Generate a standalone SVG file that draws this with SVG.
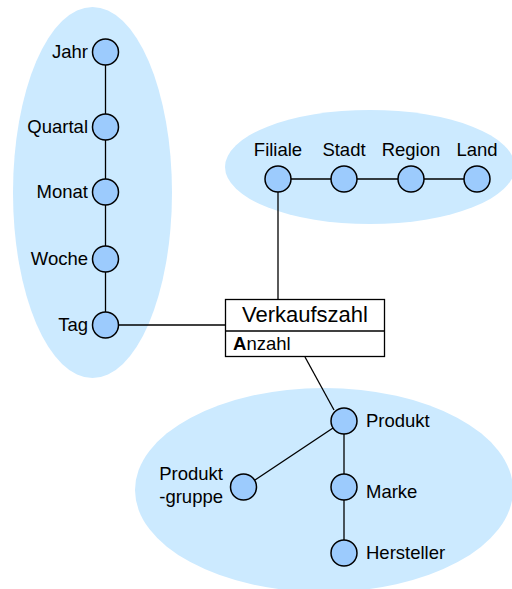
<svg xmlns="http://www.w3.org/2000/svg" width="512" height="589" viewBox="0 0 512 589">
  <style>
    .dim { fill: #cceaff; stroke: none; }
    .lvl { fill: #9ccbfd; stroke: #000; stroke-width: 1.5; }
    .edge { stroke: #000; stroke-width: 1.3; fill: none; }
    text { font-family: "Liberation Sans", Arial, sans-serif; font-size: 18.5px; fill: #000; }
    .end { text-anchor: end; }
    .mid { text-anchor: middle; }
  </style>

  <!-- dimension regions -->
  <g id="zeit-bereich"><ellipse class="dim" cx="92.5" cy="192.5" rx="79.5" ry="185.5"/></g>
  <g id="ort-bereich"><ellipse class="dim" cx="370" cy="167" rx="145" ry="57"/></g>
  <g id="produkt-bereich"><ellipse class="dim" cx="324" cy="490" rx="189" ry="102"/></g>

  <!-- connectors -->
  <g id="connectors">
    <line class="edge" x1="105.5" y1="65" x2="105.5" y2="312"/>
    <line class="edge" x1="118.5" y1="325" x2="225.5" y2="325"/>
    <line class="edge" x1="278" y1="179" x2="477" y2="179"/>
    <line class="edge" x1="278" y1="192" x2="278" y2="299"/>
    <line class="edge" x1="305" y1="357" x2="334" y2="410"/>
    <line class="edge" x1="344" y1="421" x2="344" y2="553"/>
    <line class="edge" x1="333" y1="428" x2="255" y2="480"/>
  </g>

  <!-- time hierarchy -->
  <g id="jahr"><circle class="lvl" cx="105.5" cy="52" r="13"/><text class="end" x="88" y="58">Jahr</text></g>
  <g id="quartal"><circle class="lvl" cx="105.5" cy="127" r="13"/><text class="end" x="88" y="133">Quartal</text></g>
  <g id="monat"><circle class="lvl" cx="105.5" cy="192" r="13"/><text class="end" x="88" y="198">Monat</text></g>
  <g id="woche"><circle class="lvl" cx="105.5" cy="259" r="13"/><text class="end" x="88" y="265">Woche</text></g>
  <g id="tag"><circle class="lvl" cx="105.5" cy="325" r="13"/><text class="end" x="88" y="331">Tag</text></g>

  <!-- location hierarchy -->
  <g id="filiale"><circle class="lvl" cx="278" cy="179" r="13"/><text class="mid" x="278" y="156">Filiale</text></g>
  <g id="stadt"><circle class="lvl" cx="344" cy="179" r="13"/><text class="mid" x="344" y="156">Stadt</text></g>
  <g id="region"><circle class="lvl" cx="411" cy="179" r="13"/><text class="mid" x="411" y="156">Region</text></g>
  <g id="land"><circle class="lvl" cx="477" cy="179" r="13"/><text class="mid" x="477" y="156">Land</text></g>

  <!-- product hierarchy -->
  <g id="produkt"><circle class="lvl" cx="344" cy="421" r="13"/><text x="366" y="427">Produkt</text></g>
  <g id="marke"><circle class="lvl" cx="344" cy="487" r="13"/><text x="366" y="498">Marke</text></g>
  <g id="hersteller"><circle class="lvl" cx="344" cy="553" r="13"/><text x="366" y="559">Hersteller</text></g>
  <g id="produktgruppe"><circle class="lvl" cx="243.5" cy="487" r="13"/>
    <text class="end" x="223" y="480">Produkt</text><text class="end" x="223" y="503">-gruppe</text></g>

  <!-- fact -->
  <g id="verkaufszahl">
    <rect x="225.5" y="299.5" width="159" height="57" fill="#fff" stroke="#000" stroke-width="1.3"/>
    <line class="edge" x1="225.5" y1="331" x2="384.5" y2="331"/>
    <text class="mid" x="305" y="322" style="font-size:22px">Verkaufszahl</text>
    <text x="233" y="350"><tspan font-weight="bold">A</tspan>nzahl</text>
  </g>
</svg>
